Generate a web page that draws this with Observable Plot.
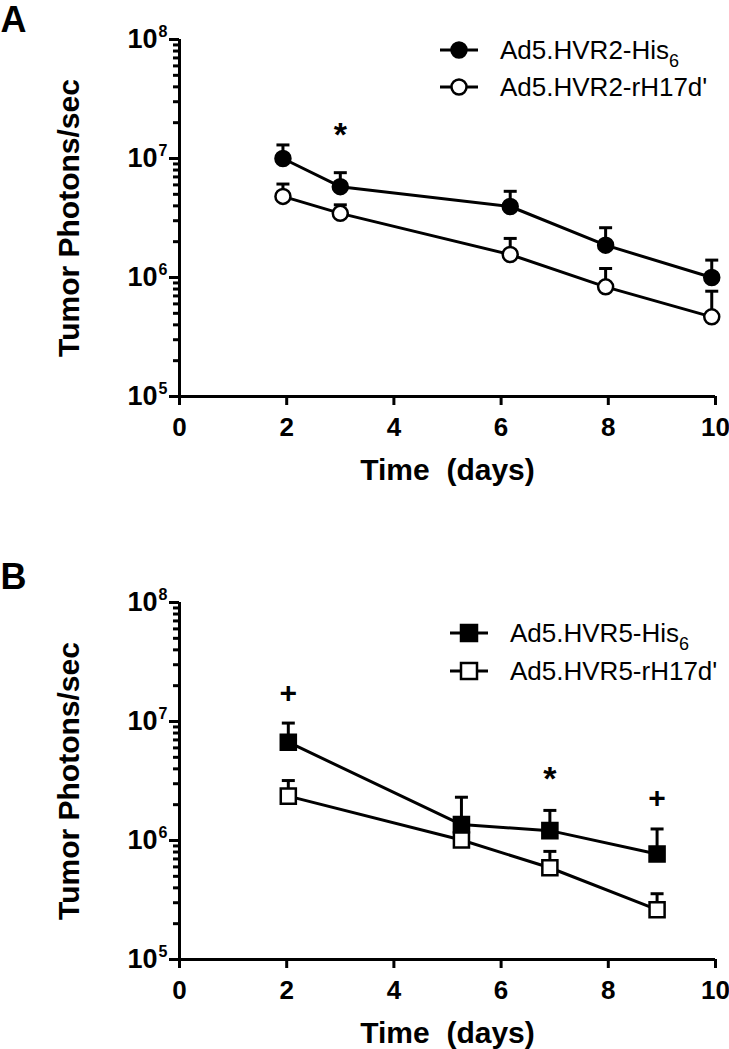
<!DOCTYPE html>
<html>
<head>
<meta charset="utf-8">
<script src="https://cdn.jsdelivr.net/npm/d3@7"></script>
<script src="https://cdn.jsdelivr.net/npm/@observablehq/plot@0.6"></script>
<style>
  html, body { margin: 0; padding: 0; background: #fff; }
  .panel { position: relative; width: 729px; }
  .panel svg { display: block; }
  .leg { position: absolute; display: flex; align-items: center; height: 30px;
         font-family: "Liberation Sans", Arial, sans-serif; font-size: 26px; color: #000; white-space: nowrap; }
  .leg svg { display: block; }
  .leg .sub { font-size: 18px; position: relative; top: 8px; line-height: 0; }
</style>
</head>
<body>
<div id="chart"></div>
<script>
// ---------- data ----------
// Panel A: HVR2
const timesA = [1.93, 3.0, 6.17, 7.95, 9.93];
const hisA = [1.0e7, 5.8e6, 3.95e6, 1.87e6, 1.0e6];
const hisAUpper = [1.30e7, 7.6e6, 5.3e6, 2.62e6, 1.40e6];
const rhA = [4.8e6, 3.46e6, 1.56e6, 8.35e5, 4.67e5];
const rhAUpper = [6.1e6, 4.08e6, 2.13e6, 1.19e6, 7.67e5];
const seriesA = ["Ad5.HVR2-His", "Ad5.HVR2-rH17d'"];
const annotAX = [3.0];
const annotAY = [1.86e7];
const annotASym = ["*"];

// Panel B: HVR5
const timesB = [2.03, 5.26, 6.91, 8.91];
const hisB = [6.7e6, 1.36e6, 1.21e6, 7.7e5];
const hisBUpper = [9.7e6, 2.31e6, 1.79e6, 1.25e6];
const rhB = [2.36e6, 1.01e6, 5.9e5, 2.62e5];
const rhBUpper = [3.19e6, null, 8.1e5, 3.57e5];
const seriesB = ["Ad5.HVR5-His", "Ad5.HVR5-rH17d'"];
const annotBX = [2.03, 6.91, 8.91];
const annotBY = [1.76e7, 3.87e6, 2.31e6];
const annotBSym = ["+", "*", "+"];

// axes
const xTicks = [0, 2, 4, 6, 8, 10];
const yExponents = [5, 6, 7, 8];
const yTitle = "Tumor Photons/sec";
const xTitle = "Time\u00a0 (days)";

const FONT = '"Liberation Sans", Arial, Helvetica, sans-serif';

const majorTicks = yExponents.map(e => Math.pow(10, e));
const minorTicks = [];
for (let e = yExponents[0]; e < yExponents[yExponents.length - 1]; e++)
  for (let m = 2; m <= 9; m++) minorTicks.push(m * Math.pow(10, e));

const capSymbol = { draw(ctx) { ctx.moveTo(-6.5, 0); ctx.lineTo(6.5, 0); } };

function buildRows(times, his, hisUp, rh, rhUp, names) {
  const rows = [];
  times.forEach((t, i) => rows.push({ t, v: his[i], up: hisUp[i], s: names[0], filled: true }));
  times.forEach((t, i) => rows.push({ t, v: rh[i], up: rhUp[i], s: names[1], filled: false }));
  return rows;
}

function makePanel({ letter, rows, symbol, r, height, marginTop, marginBottom, letterDy, annX, annY, annSym }) {
  const ann = annX.map((x, i) => ({ x, y: annY[i], s: annSym[i] }));
  const withErr = rows.filter(d => d.up != null);
  const filled = rows.filter(d => d.filled);
  const open = rows.filter(d => !d.filled);
  return Plot.plot({
    width: 729, height, marginLeft: 179, marginRight: 14, marginTop, marginBottom,
    x: { domain: [0, 10] },
    y: { type: "log", domain: [1e5, 1e8] },
    style: { fontFamily: FONT, color: "black", background: "white", overflow: "visible" },
    marks: [
      Plot.axisY({ ticks: minorTicks, tickSize: 6, tickFormat: () => "", strokeWidth: 3, label: null }),
      Plot.axisY({ ticks: majorTicks, tickSize: 10, tickFormat: () => "", strokeWidth: 3, label: null }),
      Plot.text(majorTicks, { y: d => d, text: () => "10", frameAnchor: "left", textAnchor: "end",
        dx: -22, fontSize: 27, fontWeight: "bold" }),
      Plot.text(majorTicks, { y: d => d, text: d => String(Math.round(Math.log10(d))), frameAnchor: "left",
        textAnchor: "start", dx: -21, dy: -8, fontSize: 16, fontWeight: "bold" }),
      Plot.axisX({ ticks: xTicks, tickSize: 9, tickPadding: 12, fontSize: 26, fontWeight: "bold",
        strokeWidth: 3, label: null, tickFormat: d => String(d) }),
      Plot.ruleX([0], { strokeWidth: 3 }),
      Plot.ruleY([1e5], { strokeWidth: 3 }),
      Plot.text([yTitle], { text: d => d, frameAnchor: "left", rotate: -90, dx: -110,
        fontSize: 30, fontWeight: "bold", textAnchor: "middle", lineAnchor: "middle" }),
      Plot.text([xTitle], { text: d => d, frameAnchor: "bottom", dy: 62, lineAnchor: "top",
        fontSize: 30, fontWeight: "bold" }),
      Plot.text([letter], { text: d => d, frameAnchor: "top-left", dx: -179, dy: letterDy,
        textAnchor: "start", lineAnchor: "top", fontSize: 36, fontWeight: "bold" }),
      Plot.ruleX(withErr, { x: "t", y1: "v", y2: "up", strokeWidth: 3 }),
      Plot.dot(withErr, { x: "t", y: "up", symbol: capSymbol, r: 5, fill: "none", stroke: "black", strokeWidth: 3 }),
      Plot.line(rows, { x: "t", y: "v", z: "s", stroke: "black", strokeWidth: 3 }),
      Plot.dot(filled, { x: "t", y: "v", symbol, r, fill: "black", stroke: "black", strokeWidth: 2.5 }),
      Plot.dot(open, { x: "t", y: "v", symbol, r, fill: "white", stroke: "black", strokeWidth: 2.5 }),
      Plot.text(ann.filter(d => d.s === "*"), { x: "x", y: "y", text: "s", fontSize: 34, fontWeight: "bold", dy: 9 }),
      Plot.text(ann.filter(d => d.s === "+"), { x: "x", y: "y", text: "s", fontSize: 30, fontWeight: "bold", dy: 1 })
    ]
  });
}

function legendRow(container, { left, top, textGap, label, shape, filled }) {
  const div = document.createElement("div");
  div.className = "leg";
  div.style.left = left + "px";
  div.style.top = (top - 15) + "px";
  const fill = filled ? "black" : "white";
  const marker = shape === "circle"
    ? `<circle cx="20" cy="15" r="7.5" fill="${fill}" stroke="black" stroke-width="2.5"/>`
    : `<rect x="12" y="7" width="16" height="16" fill="${fill}" stroke="black" stroke-width="2.5"/>`;
  const sub = label.endsWith("His") ? `<span class="sub">6</span>` : "";
  div.innerHTML = `<svg width="40" height="30"><line x1="1" y1="15" x2="39" y2="15" stroke="black" stroke-width="3"/>${marker}</svg>` +
    `<span style="margin-left:${textGap}px">${label}${sub}</span>`;
  container.appendChild(div);
}

const root = document.getElementById("chart");

const panelA = document.createElement("div");
panelA.className = "panel";
panelA.appendChild(makePanel({
  letter: "A", rows: buildRows(timesA, hisA, hisAUpper, rhA, rhAUpper, seriesA),
  symbol: "circle", r: 7.5, height: 524, marginTop: 39, marginBottom: 128, letterDy: -33,
  annX: annotAX, annY: annotAY, annSym: annotASym
}));
legendRow(panelA, { left: 439, top: 50, textGap: 21, label: seriesA[0], shape: "circle", filled: true });
legendRow(panelA, { left: 439, top: 87, textGap: 21, label: seriesA[1], shape: "circle", filled: false });
root.appendChild(panelA);

const panelB = document.createElement("div");
panelB.className = "panel";
panelB.appendChild(makePanel({
  letter: "B", rows: buildRows(timesB, hisB, hisBUpper, rhB, rhBUpper, seriesB),
  symbol: "square", r: 8.5, height: 525, marginTop: 78, marginBottom: 90, letterDy: -39,
  annX: annotBX, annY: annotBY, annSym: annotBSym
}));
legendRow(panelB, { left: 449, top: 109, textGap: 21, label: seriesB[0], shape: "square", filled: true });
legendRow(panelB, { left: 449, top: 147, textGap: 21, label: seriesB[1], shape: "square", filled: false });
root.appendChild(panelB);
</script>
</body>
</html>
